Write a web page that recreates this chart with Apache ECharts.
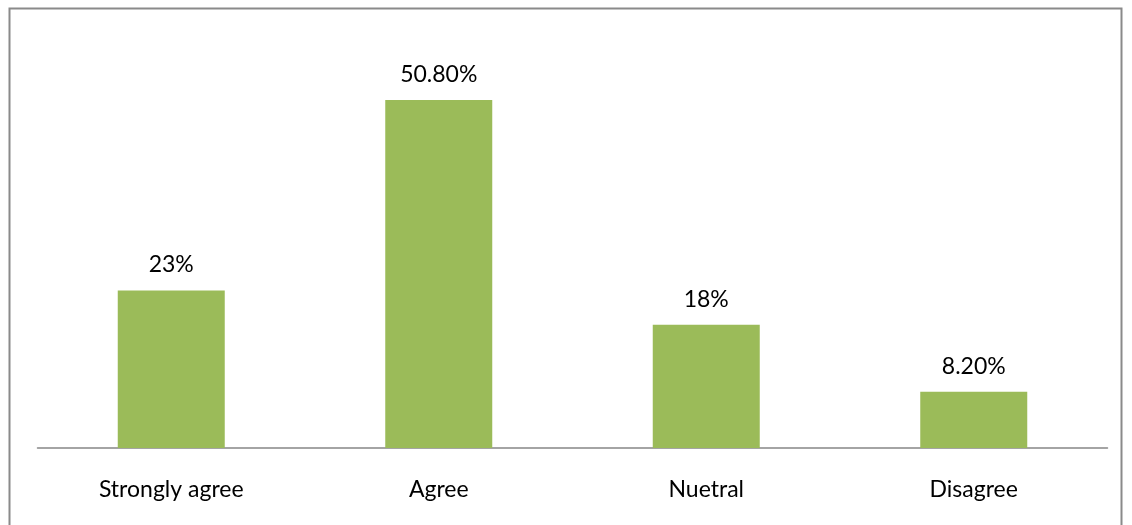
<!DOCTYPE html>
<html>
<head>
<meta charset="utf-8">
<script src="https://cdn.jsdelivr.net/npm/echarts@6/dist/echarts.min.js"></script>
<style>html,body{margin:0;padding:0;background:#fff}#c{width:1132px;height:525px}</style>
</head>
<body>
<div id="c"></div>
<script>
const categories = ["Strongly agree", "Agree", "Nuetral", "Disagree"];
const values = [23, 50.8, 18, 8.2];
const valueLabels = ["23%", "50.80%", "18%", "8.20%"];

const chart = echarts.init(document.getElementById('c'), null, {renderer: 'canvas'});
const FONT = 'Lato';
chart.setOption({
  animation: false,
  backgroundColor: '#ffffff',
  graphic: [{
    type: 'rect', silent: true,
    shape: {x: 9.5, y: 8.5, width: 1112, height: 530},
    style: {fill: 'none', stroke: '#8a8a8a', lineWidth: 2}
  }],
  grid: {left: 37.5, right: 24.5, top: 37, bottom: 77, containLabel: false},
  xAxis: {
    type: 'category',
    data: categories,
    axisLine: {show: true, lineStyle: {color: '#878787', width: 1.5}},
    axisTick: {show: false},
    axisLabel: {color: '#000', fontFamily: FONT, fontSize: 23, margin: 30}
  },
  yAxis: {
    type: 'value', min: 0, max: 60, show: false,
    splitLine: {show: false}
  },
  series: [{
    type: 'bar',
    data: values,
    barWidth: '40%',
    itemStyle: {color: '#9BBB59'},
    label: {
      show: true, position: 'top', distance: 14,
      color: '#000', fontFamily: FONT, fontSize: 23,
      formatter: p => valueLabels[p.dataIndex]
    }
  }]
});
</script>
</body>
</html>
